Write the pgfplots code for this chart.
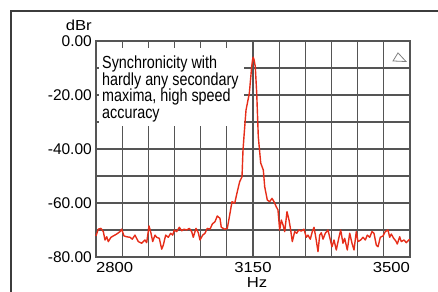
\documentclass[border=0pt]{standalone}
\usepackage{pgfplots}
\pgfplotsset{compat=1.18}
\usepackage{fontspec}
\setmainfont{Liberation Sans}
\newfontfamily\narrowfont[FakeStretch=0.82]{Liberation Sans}
\newfontfamily\widefont[FakeStretch=1.15]{Liberation Sans}
\definecolor{curve}{RGB}{230,45,25}
\definecolor{gridc}{RGB}{85,85,85}
\definecolor{framec}{RGB}{60,60,60}
\begin{document}
\begin{tikzpicture}
\useasboundingbox (0,0) rectangle (438bp,292bp);
\draw[framec, line width=1.5bp] (11bp,-5bp) -- (11bp,281bp) -- (445bp,281bp);
\begin{axis}[
  at={(96bp,35bp)}, anchor=south west,
  scale only axis, width=314bp, height=216bp,
  xmin=2800, xmax=3500, ymin=-80, ymax=0,
  xtick={2800,3150,3500},
  xticklabels={\makebox[0pt][l]{2800},3150,\makebox[0pt][r]{3500}},
  minor xtick={2858.33,2916.67,2975,3033.33,3091.67,3208.33,3266.67,3325,3383.33,3441.67},
  ytick={-80,-60,-40,-20,0},
  yticklabels={-80.00,-60.00,-40.00,-20.00,0.00},
  minor ytick={-70,-50,-30,-10},
  grid=both,
  grid style={gridc, line width=1.2bp},
  minor grid style={gridc, line width=1.2bp},
  major tick length=0pt, minor tick length=0pt,
  axis line style={gridc, line width=1.2bp},
  clip=false,
  yticklabel style={font=\fontsize{15.5bp}{15.5bp}\selectfont, inner sep=0pt, anchor=east, xshift=-4bp},
  xticklabel style={font=\widefont\fontsize{14.5bp}{14.5bp}\selectfont, inner sep=0pt, anchor=north, yshift=-5.5bp},
]
\fill[white] (axis cs:2806.7,-2.6) rectangle (axis cs:3129.5,-31.5);
\addplot[curve, line width=1.4bp, mark=none, line join=round] coordinates {
(2800,-72.2) (2805.1,-69.7) (2811.1,-69.4) (2816.3,-70.6) (2820.1,-73.7)
(2823.9,-72.5) (2827.4,-74.3) (2833.4,-72.7) (2838.6,-72.2) (2846.1,-71.5)
(2853.5,-70.6) (2857.3,-69.7) (2862.4,-72.2) (2868.4,-72.5) (2875.8,-72.7)
(2880.9,-73.4) (2886.9,-71.9) (2894.3,-74.3) (2901.9,-74.9) (2909.2,-73.7)
(2913.0,-74.7) (2918.2,-68.5) (2922.6,-71.2) (2926.4,-74.3) (2931.5,-71.9)
(2935.3,-72.7) (2941.1,-73.1) (2946.5,-77.1) (2950.0,-75.6) (2955.4,-71.9)
(2961.2,-72.7) (2966.5,-71.2) (2971.0,-71.9) (2974.6,-70.0) (2979.9,-70.6)
(2985.7,-69.0) (2991.1,-70.3) (2996.2,-69.7) (3002.2,-70.0) (3008.0,-69.4)
(3013.3,-70.6) (3016.9,-72.7) (3022.9,-69.4) (3028.1,-71.0) (3031.8,-73.7)
(3037.9,-71.9) (3043.0,-71.2) (3048.1,-69.4) (3054.1,-69.7) (3059.3,-67.8)
(3065.3,-66.9) (3070.4,-64.8) (3076.4,-65.7) (3079.3,-69.0) (3086.9,-69.7)
(3092.7,-69.4) (3098.1,-64.4) (3103.2,-59.5) (3109.2,-60.1) (3115.0,-55.8)
(3120.3,-52.1) (3125.5,-50.3) (3127.7,-40.4) (3129.9,-35.4) (3134.4,-25.6)
(3141.8,-19.4) (3147.1,-9.5) (3149.0,-7.0) (3150.5,-6.0) (3152.5,-7.0) (3155.1,-9.5)
(3158.3,-19.4) (3161.8,-35.4) (3167.2,-45.2) (3173.0,-47.8) (3176.1,-54.0)
(3181.9,-58.9) (3187.2,-59.5) (3192.4,-58.3) (3196.8,-59.5) (3201.9,-61.4)
(3205.7,-62.6) (3209.5,-70.0) (3213.1,-66.3) (3216.9,-68.1) (3220.7,-70.6)
(3225.8,-63.2) (3230.3,-66.3) (3234.0,-70.0) (3237.6,-74.3) (3243.0,-70.6)
(3247.4,-71.2) (3251.9,-70.0) (3257.7,-70.4) (3263.7,-69.7) (3268.8,-72.7)
(3272.6,-71.9) (3277.7,-73.4) (3282.2,-70.6) (3286.0,-69.0) (3289.8,-72.5)
(3294.9,-78.0) (3298.7,-71.9) (3302.3,-71.0) (3306.1,-73.4) (3311.2,-71.2)
(3317.2,-70.0) (3321.0,-72.7) (3326.1,-76.2) (3330.6,-73.7) (3335.7,-77.4)
(3341.1,-73.1) (3345.5,-70.0) (3350.6,-74.9) (3354.4,-73.1) (3360.2,-77.4)
(3365.6,-71.2) (3370.7,-74.9) (3375.2,-77.4) (3380.3,-70.6) (3384.1,-74.3)
(3390.1,-73.7) (3395.2,-72.7) (3400.4,-73.7) (3404.8,-71.9) (3410.2,-72.7)
(3415.3,-70.6) (3419.7,-71.2) (3424.9,-75.6) (3428.7,-76.2) (3433.8,-72.7)
(3439.8,-72.2) (3444.9,-70.6) (3451.0,-70.0) (3454.7,-72.7) (3458.3,-71.5)
(3463.7,-73.1) (3468.1,-74.0) (3471.7,-75.2) (3477.0,-72.5) (3480.6,-74.3)
(3486.6,-73.7) (3491.8,-74.7) (3499.3,-73.4)
};
\node[anchor=north west, align=left, inner sep=0pt,
      font=\narrowfont\fontsize{17.5bp}{16.7bp}\selectfont]
  at (axis cs:2813.4,-5.4) {Synchronicity with\\hardly any secondary\\maxima, high speed\\accuracy};
\node[anchor=east, inner sep=0pt, font=\widefont\fontsize{14.5bp}{14.5bp}\selectfont]
  at (rel axis cs:0,1) [xshift=-4bp, yshift=16bp] {dBr};
\node[anchor=center, inner sep=0pt, font=\widefont\fontsize{14.5bp}{14.5bp}\selectfont]
  at (rel axis cs:0.5,0) [xshift=4bp, yshift=-26bp] {Hz};
\draw[gray, line width=0.8bp] (axis cs:3473.3,-4.4) -- (axis cs:3462.1,-7.4) -- (axis cs:3491.1,-7.6) -- cycle;
\end{axis}
\end{tikzpicture}
\end{document}
